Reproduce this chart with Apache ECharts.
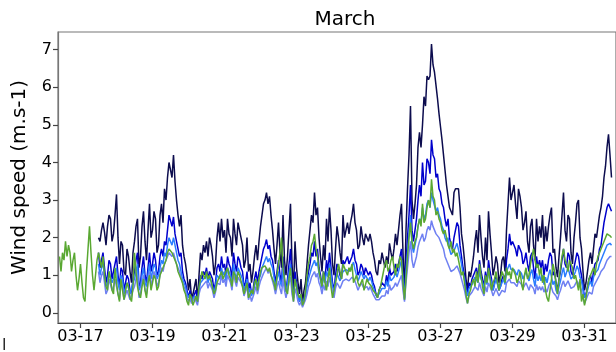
<!DOCTYPE html>
<html>
<head>
<meta charset="utf-8">
<script src="https://cdn.jsdelivr.net/npm/echarts@6/dist/echarts.min.js"></script>
<style>
  html, body { margin: 0; padding: 0; background: #ffffff; }
  #chart { width: 616px; height: 352px; }
</style>
</head>
<body>
<div id="chart"></div>
<script>
// x positions are hours counted from 03-17 00:00, one sample per hour
const tickLabels = ['03-17', '03-19', '03-21', '03-23', '03-25', '03-27', '03-29', '03-31'];
const tickHours = [0, 48, 96, 144, 192, 240, 288, 336];
const yTicks = [0, 1, 2, 3, 4, 5, 6, 7];

const stepHours = 1;
const mainStart = 12;     // first sample of the four blue records
const greenStart = -14;   // first sample of the green record

const navySpeed = [
  2.0, 1.9, 2.2, 2.4, 2.15, 1.8, 2.3, 2.6, 2.5, 1.9, 2.1, 2.6, 3.15, 2.0, 1.3, 1.9, 1.8, 1.1, 1.0, 1.7, 1.5, 1.1, 0.8, 1.6,
  1.9, 2.3, 2.5, 1.2, 1.5, 2.3, 2.7, 1.9, 1.4, 2.2, 2.9, 2.0, 2.2, 2.7, 2.5, 1.6, 1.8, 2.6, 2.9, 2.4, 3.3, 3.0, 3.6, 4.0,
  4.0, 3.6, 4.2, 3.5, 3.0, 2.6, 2.3, 2.6, 1.8, 1.5, 1.3, 1.0, 0.6, 0.9, 0.4, 0.5, 0.7, 0.9, 0.3, 1.0, 1.6, 1.4, 1.8, 1.6,
  1.9, 1.5, 2.0, 1.8, 1.5, 1.0, 1.3, 2.0, 2.4, 1.9, 2.5, 2.0, 2.2, 1.6, 2.5, 2.1, 2.0, 1.5, 2.5, 2.1, 1.8, 2.4, 2.2, 2.0,
  1.8, 1.2, 1.4, 2.0, 1.1, 1.3, 0.8, 1.1, 1.5, 1.8, 1.4, 1.9, 2.3, 2.6, 2.9, 3.0, 3.2, 2.9, 3.1, 2.6, 2.2, 1.7, 1.3, 1.8,
  2.4, 1.6, 1.2, 2.6, 1.4, 1.0, 1.5, 2.2, 2.9, 1.3, 0.6, 1.9, 1.2, 0.8, 0.5, 0.9, 0.25, 0.6, 0.8, 1.3, 1.8, 2.2, 2.6, 2.4,
  3.2, 2.6, 2.8, 2.0, 1.5, 1.1, 1.8, 1.4, 2.5, 1.9, 2.8, 2.2, 1.3, 1.0, 1.7, 2.3, 2.0, 1.6, 1.3, 2.6, 2.0, 2.2, 2.4, 2.1,
  2.4, 2.6, 2.9, 2.4, 2.2, 1.7, 1.8, 2.3, 2.0, 1.8, 2.1, 2.0, 1.9, 2.1, 1.9, 1.6, 1.4, 1.1, 1.0, 1.4, 1.3, 1.6, 1.4, 1.2,
  1.5, 1.3, 1.85, 1.6, 1.4, 1.7, 2.1, 1.8, 2.2, 2.6, 2.9, 1.6, 0.5, 2.2, 3.3, 4.2, 5.5, 3.0, 2.5, 2.9, 3.4, 4.4, 4.8, 4.4,
  5.0, 5.75, 5.5, 6.3, 6.2, 6.3, 7.15, 6.6, 6.4, 6.05, 5.7, 5.3, 4.95, 4.6, 4.2, 3.8, 3.4, 3.1, 2.8, 2.7, 2.6, 3.2, 3.3, 3.25,
  3.3, 2.8, 2.1, 1.8, 1.4, 0.9, 0.6, 1.1, 0.95, 1.2, 1.5, 1.9, 2.2, 1.6, 2.6, 2.0, 1.5, 1.2, 2.0, 1.4, 2.7, 2.1, 1.6, 1.0,
  1.2, 1.5, 1.3, 0.8, 1.0, 1.4, 1.5, 1.1, 2.2, 2.9, 3.6, 3.0, 3.2, 3.4, 2.9, 2.5, 3.3, 3.1, 2.8, 2.2, 2.4, 2.7, 1.9, 1.6,
  2.3, 2.5, 1.8, 1.4, 2.5, 1.9, 2.3, 2.0, 2.6, 1.7, 2.3, 1.9, 2.3, 2.6, 2.8, 1.6, 1.7, 1.2, 0.95, 1.5, 2.0, 2.6, 3.2, 2.2,
  1.9, 2.6, 2.5, 1.6, 1.3, 2.0, 2.4, 2.9, 3.0, 2.0, 1.7, 1.1, 0.6, 0.8, 1.1, 1.4, 1.6, 1.3, 1.7, 2.1, 2.0, 2.3, 2.6, 2.8,
  3.1, 3.6, 3.9, 4.4, 4.75, 4.2, 3.6
];

const blueSpeed = [
  1.6, 1.2, 1.4, 1.6, 1.2, 0.8, 1.0, 1.4, 1.3, 0.9, 1.1, 1.3, 1.5, 1.0, 0.7, 1.2, 1.1, 0.6, 0.6, 1.0, 0.9, 0.6, 0.5, 0.9,
  1.1, 1.4, 1.6, 0.7, 0.8, 1.2, 1.5, 1.0, 0.8, 1.2, 1.6, 1.1, 1.3, 1.6, 1.4, 1.0, 1.1, 1.5, 1.7, 1.5, 1.9, 1.8, 2.2, 2.6,
  2.6, 2.3, 2.55, 2.1, 1.9, 1.7, 1.5, 1.6, 1.1, 0.9, 0.8, 0.6, 0.4, 0.6, 0.3, 0.4, 0.5, 0.6, 0.3, 0.7, 1.0, 0.9, 1.1, 1.0,
  1.2, 0.9, 1.1, 1.0, 0.9, 0.6, 0.8, 1.2, 1.3, 1.1, 1.5, 1.2, 1.3, 1.0, 1.5, 1.3, 1.2, 0.9, 1.6, 1.3, 1.1, 1.5, 1.4, 1.2,
  1.1, 0.7, 0.8, 1.1, 0.6, 0.8, 0.5, 0.6, 0.9, 1.1, 0.8, 1.1, 1.3, 1.5, 1.7, 1.8, 1.95, 1.7, 1.8, 1.5, 1.4, 1.1, 0.8, 1.1,
  1.4, 1.0, 0.8, 1.5, 0.9, 0.6, 0.9, 1.3, 1.7, 0.8, 0.4, 1.1, 0.8, 0.5, 0.3, 0.5, 0.2, 0.4, 0.5, 0.8, 1.1, 1.3, 1.6, 1.5,
  1.9, 1.5, 1.7, 1.2, 1.0, 0.7, 1.1, 0.9, 1.4, 1.1, 1.6, 1.2, 0.8, 0.6, 1.0, 1.3, 1.2, 1.0, 0.9, 1.4, 1.3, 1.4, 1.5, 1.3,
  1.4, 1.5, 1.7, 1.4, 1.3, 1.0, 1.1, 1.3, 1.2, 1.0, 1.2, 1.1, 1.0, 1.1, 1.0, 0.8, 0.7, 0.5, 0.4, 0.6, 0.6, 0.8, 0.8, 0.7,
  1.0, 0.8, 1.2, 1.0, 1.0, 1.1, 1.3, 1.1, 1.3, 1.5, 1.7, 1.0, 0.4, 1.3, 2.0, 2.6, 3.4, 2.2, 1.9, 2.2, 2.5, 3.0, 3.4, 3.1,
  4.0, 3.4, 3.5, 4.1, 4.0, 3.7, 4.6, 4.2, 4.1, 3.6, 3.7, 3.3, 3.2, 2.9, 2.8, 2.5, 2.3, 2.5, 2.0, 1.8, 1.7, 2.0, 2.0, 2.4,
  2.3, 1.8, 1.5, 1.2, 1.0, 0.7, 0.5, 0.8, 0.7, 0.9, 0.9, 1.1, 1.2, 0.9, 1.4, 1.1, 0.9, 0.7, 1.1, 0.8, 1.4, 1.1, 0.9, 0.6,
  0.8, 1.0, 0.8, 0.6, 0.7, 0.9, 1.0, 0.8, 1.4, 1.7, 2.1, 1.8, 1.9, 1.8, 1.7, 1.5, 1.8, 1.7, 1.6, 1.3, 1.4, 1.6, 1.3, 1.1,
  1.5, 1.6, 1.2, 0.9, 1.5, 1.2, 1.4, 1.2, 1.4, 1.0, 1.3, 1.1, 1.4, 1.6, 1.5, 1.0, 1.1, 0.8, 0.6, 0.9, 1.1, 1.4, 1.7, 1.3,
  1.2, 1.6, 1.5, 1.1, 1.0, 1.2, 1.4, 1.6, 1.5, 1.2, 1.0, 0.7, 0.4, 0.5, 0.7, 0.9, 1.0, 0.8, 1.1, 1.3, 1.3, 1.4, 1.7, 1.8,
  2.1, 2.4, 2.6, 2.8, 2.9, 2.8, 2.7
];

const azureSpeed = [
  1.3, 1.0, 1.2, 1.3, 1.0, 0.7, 0.8, 1.1, 1.1, 0.8, 0.9, 1.1, 1.2, 0.8, 0.6, 1.0, 0.9, 0.5, 0.5, 0.8, 0.8, 0.5, 0.45, 0.8,
  0.9, 1.1, 1.3, 0.6, 0.7, 1.0, 1.2, 0.8, 0.7, 1.0, 1.3, 0.9, 1.1, 1.3, 1.2, 0.9, 1.0, 1.2, 1.4, 1.3, 1.6, 1.5, 1.8, 2.0,
  2.0, 1.8, 2.0, 1.8, 1.6, 1.4, 1.3, 1.3, 0.9, 0.8, 0.7, 0.5, 0.4, 0.5, 0.3, 0.35, 0.45, 0.5, 0.3, 0.6, 0.8, 0.75, 0.9, 0.85,
  1.0, 0.8, 0.95, 0.85, 0.8, 0.55, 0.7, 1.0, 1.0, 0.9, 1.2, 1.0, 1.1, 0.85, 1.2, 1.1, 1.0, 0.75, 1.3, 1.05, 0.9, 1.2, 1.1, 1.0,
  0.9, 0.6, 0.7, 0.9, 0.5, 0.65, 0.45, 0.5, 0.7, 0.9, 0.7, 0.9, 1.0, 1.2, 1.3, 1.4, 1.5, 1.35, 1.45, 1.3, 1.2, 0.95, 0.7, 0.9,
  1.1, 0.85, 0.7, 1.2, 0.8, 0.55, 0.8, 1.05, 1.3, 0.7, 0.4, 0.9, 0.7, 0.45, 0.3, 0.45, 0.2, 0.35, 0.45, 0.7, 0.9, 1.05, 1.2, 1.2,
  1.4, 1.25, 1.35, 1.05, 0.9, 0.65, 1.0, 0.8, 1.1, 0.95, 1.3, 1.0, 0.7, 0.55, 0.85, 1.05, 1.0, 0.85, 0.8, 1.1, 1.1, 1.15, 1.2, 1.1,
  1.15, 1.25, 1.35, 1.15, 1.1, 0.85, 0.95, 1.1, 1.0, 0.9, 1.0, 0.95, 0.85, 0.95, 0.85, 0.7, 0.6, 0.45, 0.4, 0.5, 0.55, 0.65, 0.7, 0.65,
  0.85, 0.7, 1.0, 0.85, 0.85, 0.95, 1.1, 0.95, 1.1, 1.25, 1.4, 0.9, 0.35, 1.1, 1.6, 2.1, 2.6, 1.8, 1.6, 1.8, 2.0, 2.3, 2.5, 2.4,
  2.8, 2.5, 2.6, 2.9, 3.0, 2.8, 3.2, 3.0, 3.0, 2.7, 2.8, 2.6, 2.5, 2.3, 2.2, 2.0, 1.9, 2.0, 1.7, 1.55, 1.5, 1.65, 1.6, 1.85,
  1.8, 1.5, 1.3, 1.05, 0.9, 0.6, 0.45, 0.65, 0.6, 0.75, 0.8, 0.95, 1.0, 0.8, 1.1, 0.9, 0.8, 0.65, 0.95, 0.75, 1.1, 0.95, 0.8, 0.6,
  0.75, 0.9, 0.75, 0.6, 0.7, 0.8, 0.9, 0.75, 1.1, 1.2, 1.3, 1.15, 1.2, 1.15, 1.1, 1.0, 1.15, 1.1, 1.05, 0.9, 1.0, 1.1, 0.95, 0.85,
  1.05, 1.15, 0.9, 0.7, 1.05, 0.85, 1.0, 0.85, 1.0, 0.75, 0.95, 0.8, 1.0, 1.15, 1.1, 0.75, 0.85, 0.6, 0.5, 0.7, 0.85, 1.05, 1.2, 0.95,
  0.95, 1.2, 1.15, 0.9, 0.85, 1.0, 1.1, 1.25, 1.15, 0.95, 0.85, 0.6, 0.4, 0.45, 0.6, 0.75, 0.85, 0.7, 0.95, 1.05, 1.1, 1.15, 1.3, 1.4,
  1.5, 1.6, 1.7, 1.8, 1.85, 1.85, 1.8
];

const lavenderSpeed = [
  1.1, 0.8, 1.0, 1.1, 0.8, 0.5, 0.6, 0.9, 0.9, 0.6, 0.7, 0.9, 0.9, 0.5, 0.35, 0.8, 0.7, 0.35, 0.4, 0.6, 0.6, 0.35, 0.3, 0.6,
  0.7, 0.9, 1.0, 0.4, 0.5, 0.8, 1.0, 0.6, 0.5, 0.8, 1.1, 0.7, 0.9, 1.1, 1.0, 0.7, 0.8, 1.0, 1.2, 1.1, 1.3, 1.3, 1.5, 1.6,
  1.65, 1.5, 1.6, 1.45, 1.3, 1.2, 1.1, 1.1, 0.8, 0.7, 0.6, 0.4, 0.3, 0.4, 0.25, 0.3, 0.4, 0.45, 0.2, 0.5, 0.65, 0.6, 0.75, 0.7,
  0.85, 0.65, 0.8, 0.7, 0.6, 0.4, 0.55, 0.8, 0.85, 0.75, 1.0, 0.8, 0.9, 0.7, 1.0, 0.9, 0.8, 0.6, 1.05, 0.85, 0.7, 0.95, 0.9, 0.8,
  0.7, 0.45, 0.5, 0.7, 0.35, 0.5, 0.3, 0.35, 0.55, 0.7, 0.5, 0.7, 0.85, 0.95, 1.05, 1.1, 1.2, 1.05, 1.15, 1.0, 0.95, 0.7, 0.5, 0.7,
  0.85, 0.65, 0.5, 0.9, 0.6, 0.4, 0.6, 0.8, 0.95, 0.5, 0.3, 0.65, 0.5, 0.3, 0.2, 0.3, 0.15, 0.25, 0.35, 0.5, 0.7, 0.8, 0.95, 0.95,
  1.1, 0.95, 1.05, 0.8, 0.7, 0.5, 0.75, 0.6, 0.85, 0.7, 0.95, 0.75, 0.55, 0.4, 0.65, 0.8, 0.75, 0.65, 0.6, 0.85, 0.85, 0.9, 0.9, 0.85,
  0.85, 0.95, 1.0, 0.85, 0.8, 0.6, 0.7, 0.8, 0.75, 0.65, 0.7, 0.7, 0.6, 0.7, 0.6, 0.5, 0.45, 0.35, 0.3, 0.35, 0.4, 0.45, 0.5, 0.45,
  0.6, 0.5, 0.75, 0.6, 0.6, 0.7, 0.8, 0.7, 0.8, 0.9, 1.0, 0.6, 0.3, 0.8, 1.2, 1.6, 1.9, 1.4, 1.2, 1.35, 1.5, 1.75, 1.9, 1.85,
  2.1, 1.9, 2.0, 2.2, 2.3, 2.2, 2.45, 2.3, 2.3, 2.1, 2.1, 2.0, 1.9, 1.8, 1.7, 1.5, 1.4, 1.35, 1.2, 1.1, 1.05, 1.15, 1.1, 1.25,
  1.2, 1.05, 0.9, 0.75, 0.6, 0.4, 0.25, 0.45, 0.45, 0.55, 0.6, 0.7, 0.75, 0.6, 0.8, 0.65, 0.6, 0.45, 0.7, 0.55, 0.8, 0.7, 0.6, 0.45,
  0.55, 0.65, 0.55, 0.45, 0.5, 0.6, 0.65, 0.55, 0.8, 0.85, 0.9, 0.8, 0.85, 0.8, 0.8, 0.7, 0.85, 0.8, 0.75, 0.65, 0.7, 0.8, 0.7, 0.6,
  0.75, 0.8, 0.65, 0.5, 0.75, 0.6, 0.7, 0.6, 0.7, 0.55, 0.65, 0.55, 0.7, 0.8, 0.75, 0.55, 0.6, 0.45, 0.35, 0.5, 0.6, 0.75, 0.85, 0.7,
  0.65, 0.85, 0.8, 0.65, 0.6, 0.7, 0.75, 0.85, 0.8, 0.7, 0.6, 0.4, 0.25, 0.3, 0.45, 0.55, 0.6, 0.5, 0.7, 0.75, 0.85, 0.9, 1.0, 1.1,
  1.15, 1.2, 1.3, 1.4, 1.45, 1.5, 1.5
];

const greenSpeed = [
  1.5, 1.1, 1.6, 1.4, 1.9, 1.5, 1.8, 1.6, 1.1, 1.4, 1.6, 1.0, 0.6, 0.9, 1.3, 0.8, 0.4, 0.3, 1.1, 1.7, 2.3, 1.6, 1.0, 0.6, 0.6, 1.4,
  1.6, 1.4, 1.2, 1.5, 1.0, 0.7, 0.6, 1.1, 0.9, 0.6, 0.5, 1.2, 0.8, 0.5, 0.3, 0.9, 0.6, 0.35, 0.4, 0.8, 0.7, 0.4, 0.3, 0.7,
  1.6, 1.1, 0.7, 0.5, 0.4, 0.7, 0.9, 0.6, 0.4, 0.8, 1.0, 0.6, 0.8, 1.0, 0.9, 0.6, 0.7, 1.0, 1.1, 1.2, 1.3, 1.4, 1.6, 1.7,
  1.75, 1.6, 1.5, 1.4, 1.3, 1.1, 1.0, 0.9, 0.8, 0.6, 0.5, 0.3, 0.2, 0.5, 0.4, 0.2, 0.15, 0.45, 0.3, 0.7, 0.9, 1.1, 1.0, 0.9,
  1.1, 0.9, 1.0, 0.85, 0.8, 0.5, 0.6, 0.8, 0.9, 1.0, 1.1, 0.9, 1.0, 1.1, 1.2, 1.0, 0.9, 0.7, 1.1, 1.0, 0.8, 1.1, 1.0, 0.85,
  0.7, 0.5, 0.5, 0.8, 0.4, 0.45, 0.6, 0.5, 0.8, 0.9, 0.6, 0.9, 1.1, 1.2, 1.2, 1.25, 1.3, 1.1, 1.2, 1.0, 1.0, 0.8, 0.6, 1.0,
  1.3, 1.6, 2.0, 1.2, 0.9, 0.6, 0.5, 0.9, 1.2, 0.7, 0.3, 0.9, 0.7, 0.5, 0.4, 0.5, 0.2, 0.3, 0.6, 1.0, 1.3, 1.5, 1.8, 1.9,
  2.1, 1.7, 1.5, 1.1, 0.9, 0.7, 1.1, 0.8, 0.6, 0.9, 1.2, 0.7, 0.4, 0.6, 0.8, 1.0, 1.3, 1.1, 0.9, 1.3, 1.2, 1.1, 1.0, 1.2,
  1.1, 1.3, 0.8, 0.9, 1.0, 0.8, 0.7, 0.8, 0.9, 0.6, 0.75, 0.9, 0.8, 0.75, 0.7, 0.6, 0.55, 0.5, 0.4, 0.6, 0.7, 0.9, 1.1, 1.3,
  1.4, 1.1, 1.2, 1.4, 1.5, 1.2, 1.0, 1.3, 1.2, 1.5, 1.4, 0.8, 0.35, 0.9, 1.5, 2.0, 2.4, 1.9, 1.7, 1.9, 2.0, 2.3, 2.5, 2.3,
  2.9, 2.4, 2.5, 2.8, 3.0, 2.8, 3.55, 3.1, 3.0, 2.6, 2.7, 2.5, 2.4, 2.2, 2.1, 2.2, 2.0, 1.8, 1.7, 1.9, 1.6, 1.7, 1.5, 1.6,
  1.4, 1.2, 1.0, 1.1, 0.8, 0.5, 0.25, 0.5, 0.6, 0.8, 0.9, 0.7, 1.1, 0.8, 1.3, 1.0, 0.7, 0.5, 1.0, 0.8, 1.2, 0.9, 0.6, 0.8,
  0.9, 1.1, 0.8, 0.6, 0.9, 1.1, 1.0, 0.8, 1.2, 1.0, 1.1, 0.9, 1.2, 1.1, 1.0, 0.8, 0.9, 1.1, 0.8, 0.6, 1.0, 1.2, 0.9, 1.0,
  1.3, 1.5, 1.7, 1.4, 1.2, 1.3, 1.0, 1.2, 0.8, 1.0, 0.6, 0.4, 0.3, 0.6, 0.9, 1.3, 1.1, 0.8, 0.5, 0.9, 1.2, 1.5, 1.7, 1.4,
  1.3, 1.1, 1.4, 1.3, 1.2, 0.9, 1.0, 0.8, 0.6, 0.9, 0.3, 0.5, 0.2, 0.4, 0.7, 0.9, 1.0, 1.1, 1.2, 1.0, 1.3, 1.5, 1.6, 1.7,
  1.75, 1.9, 2.0, 2.1, 2.15, 2.05, 2.0
];

function toPairs(start, values) {
  return values.map(function (v, i) { return [start + i * stepHours, v]; });
}

function lineSeries(name, color, start, values) {
  return {
    name: name,
    type: 'line',
    data: toPairs(start, values),
    showSymbol: false,
    symbol: 'none',
    silent: true,
    lineStyle: { color: color, width: 1.5 },
    animation: false
  };
}

const FONT = 'DejaVu Sans';
const chart = echarts.init(document.getElementById('chart'), null, { renderer: 'canvas' });

chart.setOption({
  backgroundColor: '#ffffff',
  animation: false,
  textStyle: { fontFamily: FONT },
  title: {
    text: 'March',
    left: 340,
    top: 5,
    textAlign: 'center',
    textStyle: { fontFamily: FONT, fontSize: 20, fontWeight: 'normal', color: '#000' }
  },
  grid: {
    left: 58,
    top: 32,
    width: 564,
    bottom: 29,
    show: true,
    borderColor: '#777',
    borderWidth: 1.2,
    backgroundColor: 'transparent'
  },
  xAxis: {
    type: 'value',
    min: -15,
    max: 357,
    splitLine: { show: false },
    axisLine: { onZero: false, lineStyle: { color: '#444', width: 1.2 } },
    axisTick: { customValues: tickHours, length: 5, lineStyle: { color: '#444', width: 1.2 } },
    axisLabel: {
      customValues: tickHours,
      margin: 6,
      fontFamily: FONT,
      fontSize: 16,
      color: '#000',
      formatter: function (v) {
        const k = tickHours.indexOf(v);
        return k >= 0 ? tickLabels[k] : '';
      }
    }
  },
  yAxis: {
    type: 'value',
    min: -0.27,
    max: 7.47,
    name: 'Wind speed (m.s-1)',
    nameLocation: 'middle',
    nameGap: 28,
    nameRotate: 90,
    nameTextStyle: { fontFamily: FONT, fontSize: 20, color: '#000' },
    splitLine: { show: false },
    axisLine: { onZero: false, lineStyle: { color: '#777', width: 1.2 } },
    axisTick: { customValues: yTicks, length: 5, lineStyle: { color: '#444', width: 1.2 } },
    axisLabel: {
      customValues: yTicks,
      margin: 6,
      fontFamily: FONT,
      fontSize: 16,
      color: '#000'
    }
  },
  graphic: [{
    type: 'text',
    left: 2,
    top: 338,
    style: { text: 'l', fontFamily: FONT, fontSize: 16, fill: '#222' }
  }],
  series: [
    lineSeries('navy', '#0c0c4e', mainStart, navySpeed),
    lineSeries('blue', '#0000cc', mainStart, blueSpeed),
    lineSeries('azure', '#2a7dff', mainStart, azureSpeed),
    lineSeries('lavender', '#6f80f2', mainStart, lavenderSpeed),
    lineSeries('green', '#5aa832', greenStart, greenSpeed)
  ]
});
</script>
</body>
</html>
